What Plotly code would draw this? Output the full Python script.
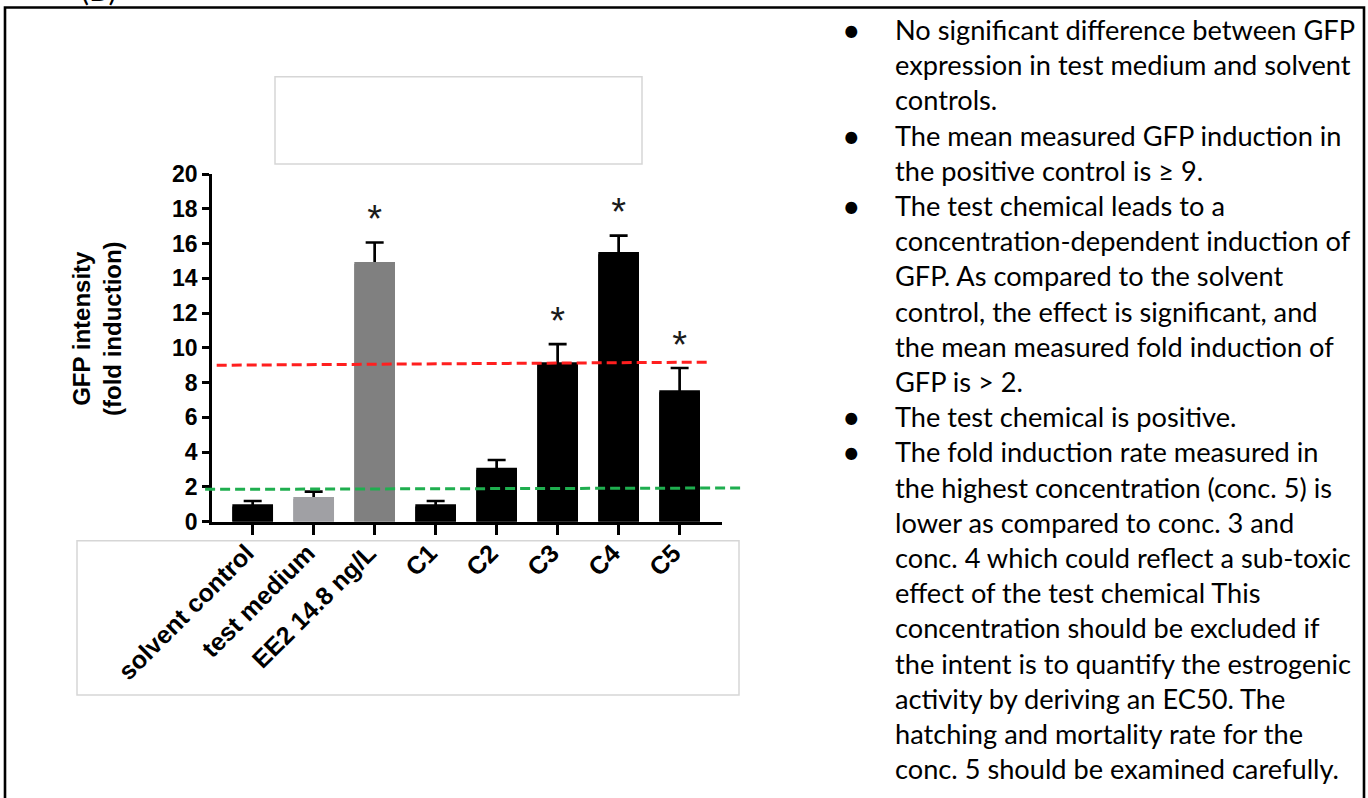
import plotly.graph_objects as go

# ---------------- data ----------------
categories = ["solvent control", "test medium", "EE2 14.8 ng/L", "C1", "C2", "C3", "C4", "C5"]
mean_fold = [1.00, 1.42, 14.94, 1.00, 3.11, 9.17, 15.51, 7.56]
sem_fold = [0.19, 0.31, 1.12, 0.19, 0.44, 1.05, 0.94, 1.28]
significant = [False, False, True, False, False, True, True, True]
bar_colors = ["#000000", "#a0a0a4", "#808080", "#000000", "#000000", "#000000", "#000000", "#000000"]
y_ticks = [0, 2, 4, 6, 8, 10, 12, 14, 16, 18, 20]

# hand-drawn threshold lines (category units / fold induction)
positive_line_x = [-0.59, 7.50]
positive_line_y = [9.00, 9.18]
fold_line_x = [-0.78, 8.02]
fold_line_y = [1.86, 1.94]

bullets = [
    ["No significant difference between GFP",
     "expression in test medium and solvent",
     "controls."],
    ["The mean measured GFP induction in",
     "the positive control is \u2265 9."],
    ["The test chemical leads to a",
     "concentration-dependent induction of",
     "GFP. As compared to the solvent",
     "control, the effect is significant, and",
     "the mean measured fold induction of",
     "GFP is > 2."],
    ["The test chemical is positive."],
    ["The fold induction rate measured in",
     "the highest concentration (conc. 5) is",
     "lower as compared to conc. 3 and",
     "conc. 4 which could reflect a sub-toxic",
     "effect of the test chemical This",
     "concentration should be excluded if",
     "the intent is to quantify the estrogenic",
     "activity by deriving an EC50. The",
     "hatching and mortality rate for the",
     "conc. 5 should be examined carefully."],
]

# ---------------- layout helpers ----------------
W, H = 1368, 798


def px(x):
    return x / W


def py(y):
    return 1 - y / H


AX_L, AX_R = 212.0, 721.7      # plot area pixel extents
AX_T, AX_B = 174.0, 521.7
XR = [-0.667, 7.69]
units_per_px = (XR[1] - XR[0]) / (AX_R - AX_L)
XR2 = [XR[0] - AX_L * units_per_px, XR[1] + (W - AX_R) * units_per_px]

TICK_FONT = dict(family="Liberation Sans, Arial, sans-serif", size=23, color="black", weight="bold")
XTICK_FONT = dict(family="Liberation Sans, Arial, sans-serif", size=25, color="black", weight="bold")
TITLE_FONT = dict(family="Liberation Sans, Arial, sans-serif", size=24, color="black", weight="bold")
TEXT_FONT = "Lato, Calibri, sans-serif"

x_pos = list(range(len(categories)))
HIDE = 0.12  # error-bar base sunk slightly below bar top so only the upper whisker shows

fig = go.Figure()

# bars carrying the (upper) error bars
fig.add_trace(go.Bar(
    x=x_pos, y=[m - HIDE for m in mean_fold], width=0.667,
    marker=dict(color=bar_colors, line=dict(width=0)),
    error_y=dict(type="data", symmetric=False, array=[s + HIDE for s in sem_fold],
                 arrayminus=[0] * len(sem_fold), color="black",
                 thickness=2.7, width=9),
    xaxis="x", yaxis="y", showlegend=False, hoverinfo="skip",
))
# the actual bars on top, hiding the base of each error bar
fig.add_trace(go.Bar(
    x=x_pos, y=mean_fold, width=0.667,
    marker=dict(color=bar_colors, line=dict(width=0)),
    xaxis="x", yaxis="y", showlegend=False,
))

star_x = [i for i, s in enumerate(significant) if s]
star_y = [mean_fold[i] + sem_fold[i] + 1.15 for i in star_x]
fig.add_trace(go.Scatter(
    x=star_x, y=star_y, mode="text", text=["*"] * len(star_x),
    textposition="middle center",
    textfont=dict(family="Liberation Sans, Arial, sans-serif", size=38, color="#1a1a1a"),
    cliponaxis=False, showlegend=False, xaxis="x", yaxis="y",
))

fig.add_trace(go.Scatter(
    x=positive_line_x, y=positive_line_y, mode="lines",
    line=dict(color="#ff1f1f", width=3, dash="10px,5px"),
    xaxis="x2", yaxis="y2", showlegend=False,
))
fig.add_trace(go.Scatter(
    x=fold_line_x, y=fold_line_y, mode="lines",
    line=dict(color="#1fae4f", width=3, dash="10px,5px"),
    xaxis="x2", yaxis="y2", showlegend=False,
))

annotations = []
# y axis title
annotations.append(dict(
    text="GFP intensity<br>(fold induction)", x=px(97), y=py(329),
    xref="paper", yref="paper", showarrow=False, textangle=-90,
    xanchor="center", yanchor="middle", font=TITLE_FONT,
))
# cut-off panel label
annotations.append(dict(
    text="(B)", x=px(98), y=py(9), xref="paper", yref="paper",
    showarrow=False, xanchor="center", yanchor="bottom",
    font=dict(family=TEXT_FONT, size=30, color="black"),
))

# bullet text on the right
line_no = 0
LINE0, LINE_H = 29.5, 35.2
for block in bullets:
    annotations.append(dict(
        text="\u2022", x=px(851), y=py(LINE0 + line_no * LINE_H),
        xref="paper", yref="paper", showarrow=False,
        xanchor="center", yanchor="middle",
        font=dict(family=TEXT_FONT, size=32, color="black"),
    ))
    for ln in block:
        annotations.append(dict(
            text=ln, x=px(893), y=py(LINE0 + line_no * LINE_H),
            xref="paper", yref="paper", showarrow=False,
            xanchor="left", yanchor="middle",
            font=dict(family=TEXT_FONT, size=27.2, color="black"),
        ))
        line_no += 1

shapes = [
    # outer frame
    dict(type="rect", xref="paper", yref="paper", x0=px(5), x1=px(1364),
         y0=py(7.5), y1=py(830), line=dict(color="black", width=2.6),
         fillcolor="rgba(0,0,0,0)", layer="above"),
    # empty box above plot
    dict(type="rect", xref="paper", yref="paper", x0=px(275), x1=px(642),
         y0=py(76.7), y1=py(164), line=dict(color="#d6d6d6", width=1.5),
         fillcolor="rgba(0,0,0,0)", layer="below"),
    # box around category labels
    dict(type="rect", xref="paper", yref="paper", x0=px(77), x1=px(739),
         y0=py(540.7), y1=py(695), line=dict(color="#d6d6d6", width=1.5),
         fillcolor="rgba(0,0,0,0)", layer="below"),
]

fig.update_layout(
    width=W, height=H, autosize=False,
    margin=dict(l=0, r=0, t=0, b=0, pad=0, autoexpand=False),
    paper_bgcolor="white", plot_bgcolor="rgba(0,0,0,0)",
    barmode="overlay",
    xaxis=dict(
        domain=[px(AX_L), px(AX_R)], range=XR, anchor="y", automargin=False,
        tickmode="array", tickvals=x_pos, ticktext=categories,
        tickangle=-45, ticks="outside", ticklen=10, tickwidth=2.7, tickcolor="black",
        ticklabelshift=-6, ticklabelstandoff=-6,
        showline=True, linewidth=2.7, linecolor="black",
        showgrid=False, zeroline=False, tickfont=XTICK_FONT, fixedrange=True,
    ),
    yaxis=dict(
        domain=[py(AX_B), py(AX_T)], range=[0, 20], anchor="x", automargin=False,
        tickmode="array", tickvals=y_ticks,
        ticks="outside", ticklen=7, tickwidth=2.7, tickcolor="black",
        showline=True, linewidth=2.7, linecolor="black",
        showgrid=False, zeroline=False, tickfont=TICK_FONT, fixedrange=True,
    ),
    xaxis2=dict(domain=[0, 1], range=XR2, anchor="y2", visible=False,
                fixedrange=True, automargin=False),
    yaxis2=dict(domain=[py(AX_B), py(AX_T)], range=[0, 20], anchor="x2",
                visible=False, fixedrange=True, automargin=False),
    annotations=annotations,
    shapes=shapes,
)

fig.write_html(
    "out.html",
    config={"displayModeBar": False},
    post_script="document.body.style.margin='0';document.body.style.overflow='hidden';",
)
